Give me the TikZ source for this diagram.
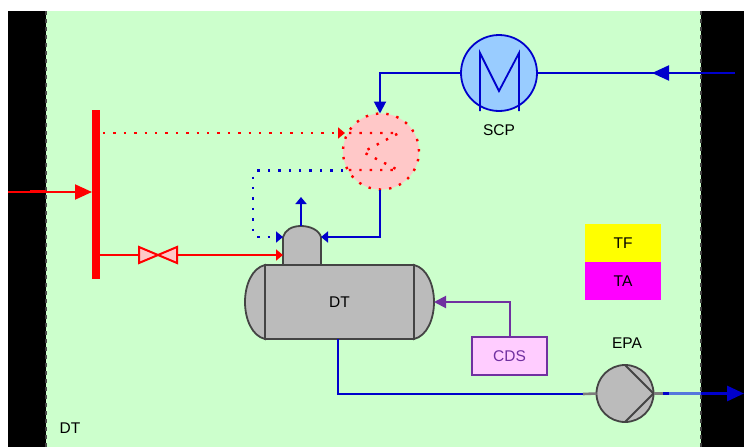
\documentclass[tikz,border=0pt]{standalone}
\usepackage{fontspec}
\setmainfont{Liberation Sans}
\usetikzlibrary{arrows.meta}
\definecolor{panelgreen}{HTML}{CCFFCC}
\definecolor{pipeblue}{HTML}{0000CC}
\definecolor{coolerblue}{HTML}{99CCFF}
\definecolor{vesselgray}{HTML}{BBBBBB}
\definecolor{edgegray}{HTML}{444444}
\definecolor{cdspurple}{HTML}{7030A0}
\definecolor{cdspink}{HTML}{FFCCFF}
\definecolor{pumpblue}{HTML}{5577DD}
\definecolor{valvepink}{HTML}{FFC8C8}
\definecolor{tablemagenta}{HTML}{FF00FF}
\definecolor{tableyellow}{HTML}{FFFF00}
\begin{document}
\begin{tikzpicture}[
x=1pt,y=-1pt,
every node/.style={inner sep=0pt,outer sep=0pt,font=\fontsize{15.5}{17}\selectfont},
block/.style={fill=black,minimum width=#1,anchor=north west},
blueline/.style={pipeblue,line width=2pt},
redline/.style={red,line width=2pt},
purpleline/.style={cdspurple,line width=2pt},
grayline/.style={edgegray,line width=1.8pt},
spaced/.style={line width=2.4pt,dash pattern=on 2.4pt off 8pt},
bigtip/.style={-{Triangle[length=17pt,width=15pt]}},
midtip/.style={-{Triangle[length=12pt,width=12pt]}},
smalltip/.style={-{Triangle[length=7pt,width=11pt]}},
vessel/.style={draw=edgegray,line width=1.8pt,fill=vesselgray}
]
\useasboundingbox (0,0) rectangle (744,447);
% walls and panel
\node (panel)[fill=panelgreen,minimum width=655pt,minimum height=436pt,anchor=north west] at (46,11){};
\node (wallL)[block=38pt,minimum height=436pt] at (8,11){};
\node (wallR)[block=43pt,minimum height=436pt] at (701,11){};
\draw[edgegray,line width=1.8pt,dash pattern=on 4pt off 4pt] (panel.north west) -- (panel.south west);
\draw[edgegray,line width=1.8pt,dash pattern=on 4pt off 4pt] (panel.north east) -- (panel.south east);

% named points
\coordinate (feed) at (8,192);
\coordinate (coolIn) at (735,73);
\coordinate (coolTurn) at (380,73);
\coordinate (domeL) at (283,237);
\coordinate (domeR) at (321,237);
\coordinate (domeT) at (301,226);
\coordinate (domeB) at (301,265);
\coordinate (vapour) at (301,197);
\coordinate (refluxTurn) at (380,237);
\coordinate (valveL) at (139,255);
\coordinate (valveR) at (177,255);
\coordinate (steamIn) at (283,255);
\coordinate (outTurn) at (338,394);
\coordinate (outEnd) at (744,393.5);

% equipment
\node (bar)[fill=red,minimum width=8pt,minimum height=169pt] at (96,194.5){};
\node (cooler)[circle,draw=pipeblue,line width=1.8pt,fill=coolerblue,minimum size=76pt] at (499,73){};
\node (heater)[circle,fill=valvepink,minimum size=76pt] at (381,151.5){};
\node (pump)[circle,vessel,minimum size=57pt] at (625,393.5){};
\node (body)[vessel,minimum width=149pt,minimum height=74pt] at (339.5,302){DT};
\node (cds)[draw=cdspurple,line width=1.8pt,fill=cdspink,text=cdspurple,minimum width=75pt,minimum height=38pt] at (509.5,356){CDS};
\node (tf)[fill=tableyellow,minimum width=76pt,minimum height=38pt] at (623,243){TF};
\node (ta)[fill=tablemagenta,minimum width=76pt,minimum height=38pt] at (623,281){TA};
\node (scp) at (499,130){SCP};
\node (epa) at (627,343){EPA};
\node (panelname) at (70,428){DT};

% vessel ends and dome
\draw[vessel] (body.north west) .. controls (252,268) and (245,285) .. (245,302) .. controls (245,319) and (252,336) .. (body.south west) -- cycle;
\draw[vessel] (body.north east) .. controls (427,268) and (434,285) .. (434,302) .. controls (434,319) and (427,336) .. (body.south east) -- cycle;
\draw[vessel] (domeB -| domeL) -- (domeL) .. controls (285,230) and (292,226) .. (domeT) .. controls (310,226) and (319,230) .. (domeR) -- (domeB -| domeR) -- cycle;

% cooler
\draw[pipeblue,line width=1.8pt] (480,111) -- (480,53) -- (499,91) -- (519,53) -- (519,111);
\draw[blueline] (coolIn) -- (cooler.east);
\draw[blueline,bigtip] (coolIn) -- (652,73);
\draw[blueline,midtip] (cooler.west) -- (coolTurn) -- (heater.north -| coolTurn);

% heater coil
\draw[red,spaced] (heater) circle (38pt);
\draw[red,spaced] (349,133) -- (399,133) -- (363,152) -- (398,170) -- (346,170);

% steam
\draw[redline] (feed) -- (30,192);
\draw[red,line width=3pt] (30,191) -- (46,191);
\draw[redline,bigtip] (46,192) -- (bar.west |- feed);
\draw[red,spaced,smalltip] (103,133) -- (345,133);
\draw[redline] (bar.east |- valveL) -- (valveL);
\draw[redline,smalltip] (valveR) -- (steamIn);
\draw[redline,fill=valvepink] (valveL) ++(0,-8) -- (valveR |- 0,263) -- (valveR |- 0,247) -- (139,263) -- cycle;

% vapour and reflux
\draw[blueline,smalltip] (domeT) -- (vapour);
\draw[blueline,smalltip] (heater.south -| refluxTurn) -- (refluxTurn) -- (domeR);
\draw[pipeblue,spaced,smalltip] (343,170.5) -- (257,170.5) -- (253,175) -- (253,233) -- (257,237) -- (domeL);

% additive
\draw[purpleline,midtip] (cds.north) -- (cds.north |- body) -- (434,302);

% outlet
\draw[blueline] (body.south -| outTurn) -- (outTurn) -- (583,394);
\draw[edgegray!70,line width=2.6pt] (583,394) -- (pump.west);
\draw[grayline] (pump.north) -- (pump.east) -- (pump.south);
\draw[edgegray!70,line width=2.6pt] (pump.east) -- (663,393.5);
\draw[pipeblue,line width=3pt] (663,393.5) -- (669,393.5);
\draw[pumpblue,line width=3pt] (669,393.5) -- (701,393.5);
\draw[pipeblue,line width=3pt,-{Triangle[length=17pt,width=15pt]}] (701,393.5) -- (outEnd);
\end{tikzpicture}
\end{document}
